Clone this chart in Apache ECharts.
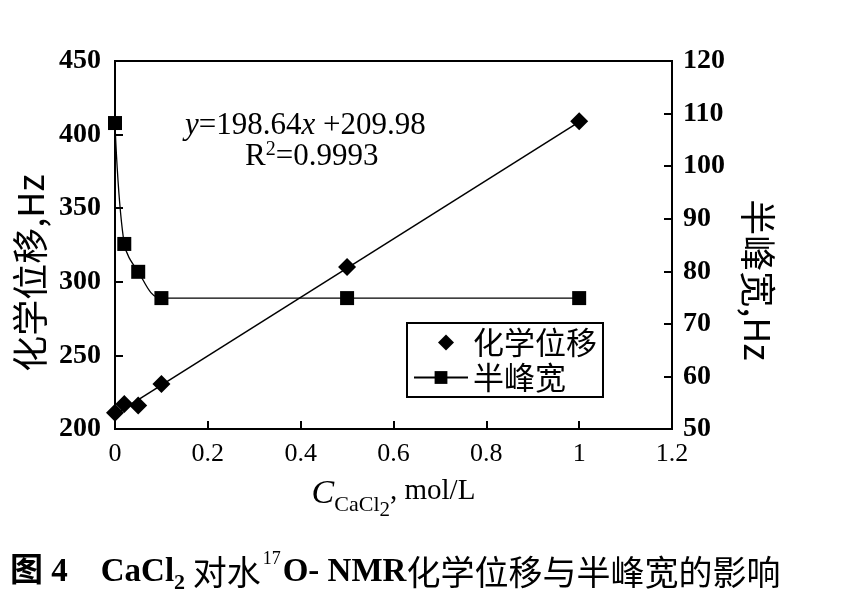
<!DOCTYPE html>
<html>
<head>
<meta charset="utf-8">
<script src="https://cdn.jsdelivr.net/npm/echarts@6/dist/echarts.min.js"></script>
<style>
  html, body { margin: 0; padding: 0; background: #fff; }
  #main { width: 860px; height: 605px; }
</style>
</head>
<body>
<div id="main"></div>
<script>
// 浓度 (mol/L)
const concentration = [0, 0.02, 0.05, 0.1, 0.5, 1];
// 化学位移, Hz
const chemShift = [211, 217, 216, 230.5, 310, 409];
// 半峰宽, Hz
const halfWidth = [108.2, 85.2, 79.9, 74.9, 74.9, 74.9];
// 拟合直线两端点 y=198.64x+209.98
const fitX = [0, 1];
const fitY = [209.98, 408.62];

const serif = '"Liberation Serif", "Noto Sans CJK SC", serif';
const cjk = '"Noto Sans CJK SC", "Liberation Serif", sans-serif';

const pairs = (xs, ys) => xs.map((x, i) => [x, ys[i]]);

// 图例里的菱形，不被拉伸（外框占满 54x16）
const diamondIcon = 'path://M0,0M54,16M32,0L40,8L32,16L24,8Z';

const myChart = echarts.init(document.getElementById('main'));
myChart.setOption({
  animation: false,
  backgroundColor: '#fff',
  grid: {
    left: 115, right: 188, top: 61, bottom: 176,
    containLabel: false, outerBoundsMode: 'none',
    show: true, borderColor: '#000', borderWidth: 2
  },
  legend: {
    data: [{ name: '化学位移', icon: diamondIcon }, '半峰宽'],
    orient: 'vertical',
    left: 407, top: 323,
    padding: [4, 6, 4, 6],
    itemGap: 4,
    itemWidth: 54, itemHeight: 16,
    borderColor: '#000', borderWidth: 2,
    backgroundColor: '#fff',
    textStyle: { fontFamily: cjk, fontSize: 31, color: '#000' }
  },
  xAxis: {
    type: 'value', min: 0, max: 1.2, interval: 0.2,
    name: '{c|C}{s|CaCl}{s2|2}{n|, mol/L}',
    nameLocation: 'middle', nameGap: 48,
    nameTextStyle: {
      rich: {
        c: { fontFamily: serif, fontStyle: 'italic', fontSize: 34, color: '#000', lineHeight: 44, verticalAlign: 'top' },
        s: { fontFamily: serif, fontSize: 22, color: '#000', lineHeight: 22, padding: [0, 0, 5, 0], verticalAlign: 'bottom' },
        s2: { fontFamily: serif, fontSize: 21, color: '#000', lineHeight: 21, verticalAlign: 'bottom' },
        n: { fontFamily: serif, fontSize: 29, color: '#000', lineHeight: 44, verticalAlign: 'top' }
      }
    },
    axisLine: { lineStyle: { color: '#000', width: 2 } },
    axisTick: { inside: true, length: 8, lineStyle: { color: '#000', width: 2 } },
    axisLabel: { fontFamily: serif, fontSize: 26, color: '#000', margin: 12 },
    splitLine: { show: false }
  },
  yAxis: [
    {
      type: 'value', min: 200, max: 450, interval: 50,
      name: '化学位移,Hz',
      nameLocation: 'middle', nameRotate: 90, nameGap: 67,
      nameTextStyle: { fontFamily: cjk, fontSize: 36, color: '#000', padding: [0, 56, 0, 0] },
      axisLine: { show: true, lineStyle: { color: '#000', width: 2 } },
      axisTick: { show: true, inside: true, length: 8, lineStyle: { color: '#000', width: 2 } },
      axisLabel: { fontFamily: serif, fontWeight: 'bold', fontSize: 28, color: '#000', margin: 14 },
      splitLine: { show: false }
    },
    {
      type: 'value', min: 50, max: 120, interval: 10,
      position: 'right',
      name: '半峰宽,Hz',
      nameLocation: 'middle', nameRotate: -90, nameGap: 68,
      nameTextStyle: { fontFamily: cjk, fontSize: 36, color: '#000', padding: [0, 0, 0, 70] },
      axisLine: { show: true, lineStyle: { color: '#000', width: 2 } },
      axisTick: { show: true, inside: true, length: 8, lineStyle: { color: '#000', width: 2 } },
      axisLabel: { fontFamily: serif, fontWeight: 'bold', fontSize: 28, color: '#000', margin: 11 },
      splitLine: { show: false }
    }
  ],
  series: [
    {
      name: '拟合', type: 'line', yAxisIndex: 0,
      data: pairs(fitX, fitY),
      showSymbol: false, symbol: 'none',
      lineStyle: { color: '#000', width: 1.5 },
      silent: true, z: 1
    },
    {
      name: '化学位移', type: 'scatter', yAxisIndex: 0,
      data: pairs(concentration, chemShift),
      symbol: 'diamond', symbolSize: 18,
      itemStyle: { color: '#000', opacity: 1 }, z: 3
    },
    {
      name: '半峰宽', type: 'line', yAxisIndex: 1,
      data: pairs(concentration, halfWidth),
      smooth: 0.35,
      symbol: 'rect', symbolSize: 14, showAllSymbol: true,
      lineStyle: { color: '#000', width: 1.3 },
      itemStyle: { color: '#000', opacity: 1 }, z: 2
    }
  ],
  graphic: [
    {
      type: 'text', left: 185, top: 110,
      style: {
        text: '{i|y}{n|=198.64}{i|x}{n| +209.98}',
        rich: {
          i: { fontFamily: serif, fontStyle: 'italic', fontSize: 31, fill: '#000' },
          n: { fontFamily: serif, fontSize: 31, fill: '#000' }
        }
      }
    },
    {
      type: 'text', left: 245, top: 140,
      style: {
        text: '{n|R}{sup|2}{n|=0.9993}',
        rich: {
          n: { fontFamily: serif, fontSize: 31, fill: '#000', lineHeight: 34, verticalAlign: 'middle' },
          sup: { fontFamily: serif, fontSize: 20, fill: '#000', lineHeight: 16, verticalAlign: 'top' }
        }
      }
    },
    {
      type: 'text', left: 10, top: 550,
      style: {
        text: '{b|图 4}{sp|    }{b|CaCl}{sub|2}{c| 对水}{sup|17}{b|O- NMR}{c|化学位移与半峰宽的影响}',
        rich: {
          b: { fontFamily: serif, fontWeight: 'bold', fontSize: 33, fill: '#000', lineHeight: 44, verticalAlign: 'middle' },
          c: { fontFamily: cjk, fontSize: 34, fill: '#000', lineHeight: 44, verticalAlign: 'middle' },
          sp: { fontFamily: serif, fontSize: 33, fill: '#000', lineHeight: 44, verticalAlign: 'middle' },
          sub: { fontFamily: serif, fontWeight: 'bold', fontSize: 22, fill: '#000', lineHeight: 18, verticalAlign: 'bottom' },
          sup: { fontFamily: serif, fontSize: 18, fill: '#000', lineHeight: 24, verticalAlign: 'top', padding: [0, 2, 0, 2] }
        }
      }
    }
  ]
});
</script>
</body>
</html>
